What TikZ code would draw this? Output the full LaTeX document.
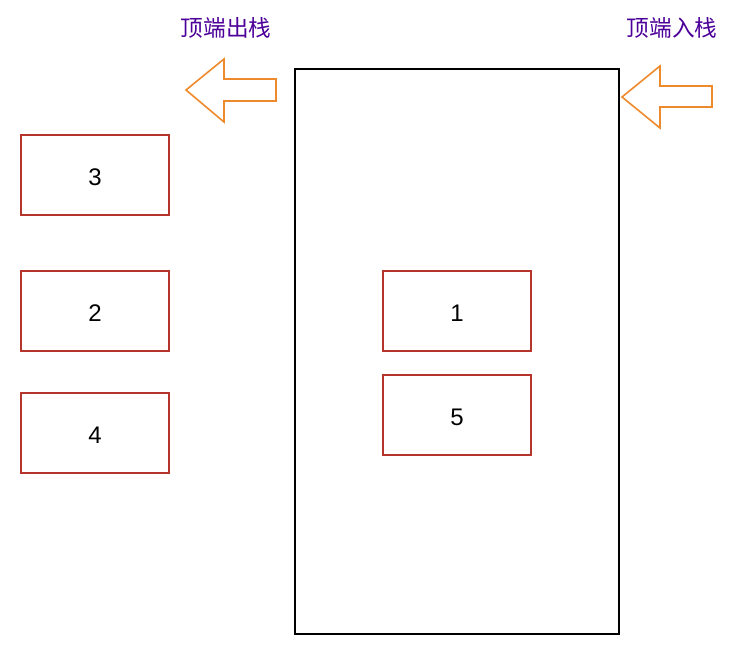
\documentclass[tikz,border=0pt]{standalone}
\usepackage{fontspec}
\setmainfont{Liberation Sans}
\newfontfamily\cjk{Noto Sans CJK SC}
\definecolor{boxred}{HTML}{B5342B}
\definecolor{arroworange}{HTML}{EE8A2C}
\definecolor{labelpurple}{HTML}{4C0099}
\begin{document}
\begin{tikzpicture}[x=0.75pt,y=-0.75pt,
  item/.style={draw=boxred,line width=1.2pt,minimum width=148*0.75pt,minimum height=80*0.75pt,inner sep=0pt,text height=15.9pt,text depth=0pt,font=\fontsize{18}{21}\selectfont},
  stackbox/.style={draw=black,line width=1.2pt,minimum width=324*0.75pt,minimum height=565*0.75pt,inner sep=0pt},
  lbl/.style={text=labelpurple,font=\cjk\fontsize{17}{20}\selectfont,inner sep=0pt},
  hollowarrow/.style={draw=arroworange,line width=1.2pt,line join=miter}]
\useasboundingbox (0,0) rectangle (740,658);
\node[stackbox] (stack) at (457,351.5) {};
\node[item] (b3) at (95,175) {3};
\node[item] (b2) at (95,311) {2};
\node[item] (b4) at (95,433) {4};
\node[item] (b1) at (457,311) {1};
\node[item] (b5) at (457,415) {5};
\node[lbl] (pop) at (226,27.5) {顶端出栈};
\node[lbl] (push) at (672,27.5) {顶端入栈};
\draw[hollowarrow] (186,90) -- (224,59) -- (224,79) -- (276,79) -- (276,101) -- (224,101) -- (224,122) -- cycle;
\draw[hollowarrow] (622,97) -- (660,66) -- (660,86) -- (712,86) -- (712,107) -- (660,107) -- (660,128) -- cycle;
\end{tikzpicture}
\end{document}
